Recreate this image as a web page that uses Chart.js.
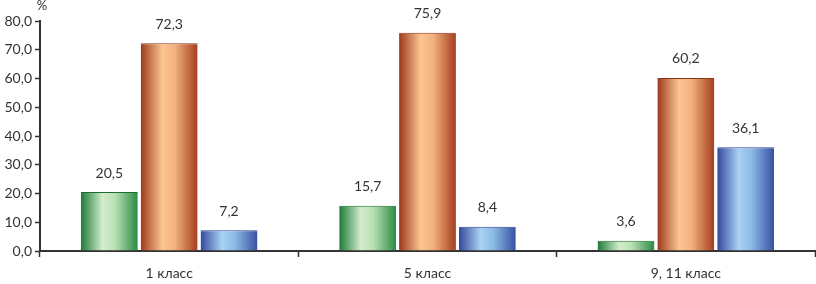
<!DOCTYPE html>
<html>
<head>
<meta charset="utf-8">
<script src="https://cdn.jsdelivr.net/npm/chart.js@4"></script>
<style>
  html, body { margin: 0; padding: 0; background: #fff; }
  #wrap { width: 816px; height: 284px; }
</style>
</head>
<body>
<div id="wrap"><canvas id="barChart"></canvas></div>
<script>
const categories = ["1 класс", "5 класс", "9, 11 класс"];
const seriesGreen = [20.5, 15.7, 3.6];
const seriesOrange = [72.3, 75.9, 60.2];
const seriesBlue = [7.2, 8.4, 36.1];
const yTicks = [0, 10, 20, 30, 40, 50, 60, 70, 80];

// gradient stops per series: dark edge, light middle, dark edge
const palettes = [
    ["#1c7a36", "#d3ecce", "#b9e0b2", "#2a8a45"],
    ["#9c3a1c", "#fbc592", "#f2b27d", "#a43e1e"],
    ["#34489c", "#a9d2f3", "#8cbbe6", "#3850a3"]
];
const borders = ["#1a6e30", "#8c3418", "#2f4290"];

const fmt = v => v.toFixed(1).replace(".", ",");

// horizontal gradient per bar
const gradientPlugin = {
    id: "barGradient",
    beforeDatasetsDraw(chart) {
        const ctx = chart.ctx;
        chart.data.datasets.forEach((ds, di) => {
            const p = palettes[di];
            chart.getDatasetMeta(di).data.forEach(bar => {
                const l = bar.x - bar.width / 2;
                const r = bar.x + bar.width / 2;
                const g = ctx.createLinearGradient(l, 0, r, 0);
                g.addColorStop(0, p[0]);
                g.addColorStop(0.38, p[1]);
                g.addColorStop(0.6, p[2]);
                g.addColorStop(1, p[3]);
                bar.options = Object.assign({}, bar.options, { backgroundColor: g });
            });
        });
    }
};

// value labels above bars and "%" above y axis
const labelPlugin = {
    id: "valueLabels",
    afterDatasetsDraw(chart) {
        const ctx = chart.ctx;
        ctx.save();
        ctx.font = "14px Lato";
        ctx.fillStyle = "#333333";
        ctx.textAlign = "center";
        ctx.textBaseline = "middle";
        chart.data.datasets.forEach((ds, di) => {
            chart.getDatasetMeta(di).data.forEach((bar, i) => {
                ctx.fillText(fmt(ds.data[i]), bar.x, bar.y - 19);
            });
        });
        ctx.font = "13px Lato";
        ctx.fillText("%", chart.chartArea.left + 2, 6);
        ctx.restore();
    }
};

function makeDataset(label, data, i) {
    return {
        label: label,
        data: data,
        backgroundColor: () => palettes[i][1],
        borderColor: borders[i],
        borderWidth: { top: 1, left: 0, right: 0, bottom: 0 },
        borderSkipped: false,
        categoryPercentage: 0.695,
        barPercentage: 0.95
    };
}

document.addEventListener("DOMContentLoaded", function () {
    const ctx = document.getElementById("barChart").getContext("2d");
    new Chart(ctx, {
        type: "bar",
        data: {
            labels: categories,
            datasets: [
                makeDataset("green", seriesGreen, 0),
                makeDataset("orange", seriesOrange, 1),
                makeDataset("blue", seriesBlue, 2)
            ]
        },
        options: {
            responsive: true,
            maintainAspectRatio: false,
            animation: false,
            layout: { padding: { top: 21, right: 1, left: 0, bottom: 0 } },
            plugins: {
                legend: { display: false },
                tooltip: { enabled: false }
            },
            scales: {
                x: {
                    grid: {
                        offset: true,
                        drawOnChartArea: false,
                        tickLength: 6,
                        tickWidth: 1.5,
                        tickColor: "#333333"
                    },
                    border: { color: "#333333", width: 2 },
                    ticks: {
                        color: "#333333",
                        font: { family: "Lato", size: 14 },
                        padding: 8
                    },
                    afterFit: s => { s.height = 33; }
                },
                y: {
                    min: 0,
                    max: 80,
                    afterBuildTicks: s => { s.ticks = yTicks.map(v => ({ value: v })); },
                    grid: {
                        drawOnChartArea: false,
                        tickLength: 5,
                        tickWidth: 1.5,
                        tickColor: "#333333"
                    },
                    border: { color: "#333333", width: 2 },
                    ticks: {
                        color: "#333333",
                        font: { family: "Lato", size: 14 },
                        padding: 3,
                        callback: v => fmt(v)
                    },
                    afterFit: s => { s.width = 40; }
                }
            }
        },
        plugins: [gradientPlugin, labelPlugin]
    });
});
</script>
</body>
</html>
